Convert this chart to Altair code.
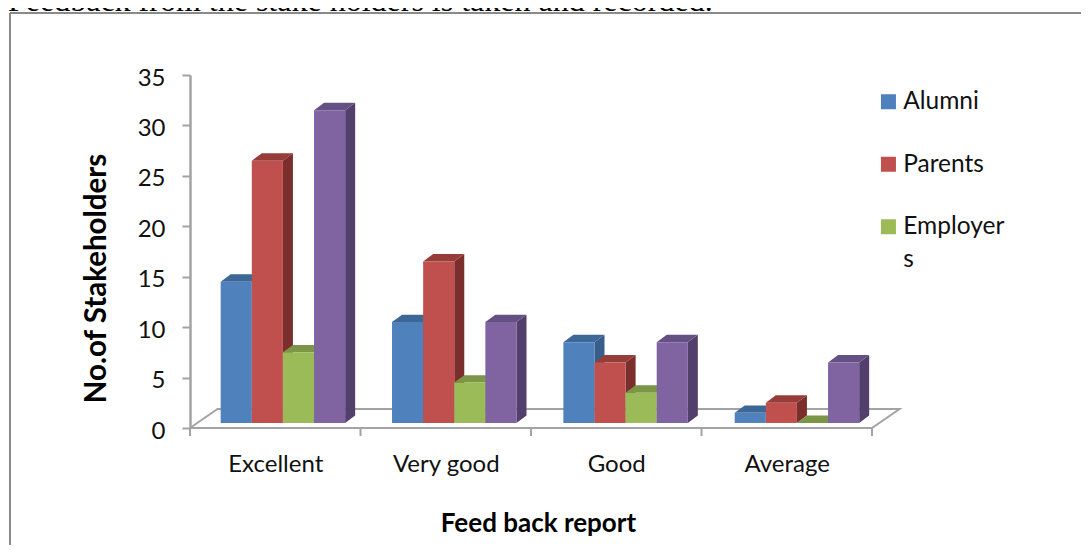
import altair as alt
import pandas as pd

CATEGORIES = ["Excellent", "Very good", "Good", "Average"]
SERIES = ["Alumni", "Parents", "Employers", "Students"]
ALUMNI = [14, 10, 8, 1]
PARENTS = [26, 16, 6, 2]
EMPLOYERS = [7, 4, 3, 0]
STUDENTS = [31, 10, 8, 6]
VALUES = [ALUMNI, PARENTS, EMPLOYERS, STUDENTS]

FRONT = ["#4f81bd", "#c0504d", "#9bbb59", "#8064a2"]
TOP = ["#3d6796", "#963d3a", "#7b9647", "#655083"]
SIDE = ["#385d8a", "#7a2f2d", "#6b8340", "#533f6c"]
AXIS_GREY = "#a3a3a3"
FONT = "Lato"

STEP = 1.0049
START = 0.18
BAR_W = 0.1825
DX = 0.0587
DY = 0.74
BASE = 0.5
FLOOR_DX = 0.1613
FLOOR_DY = 1.88

xs = alt.Scale(domain=[0, 4], nice=False, zero=False)
ys = alt.Scale(domain=[0, 35], nice=False, zero=False)

floor = pd.DataFrame({
    "x": [0, FLOOR_DX, 4 + FLOOR_DX, 4, 0],
    "y": [0, FLOOR_DY, FLOOR_DY, 0, 0],
    "o": [0, 1, 2, 3, 4],
})

label_expr = "[" + ",".join(repr(c) for c in CATEGORIES) + "][floor(datum.value)]"

XAX = alt.Axis(
    values=[0.5, 1.5, 2.5, 3.5], labelExpr=label_expr, domain=False, ticks=False, grid=False,
    labelFont=FONT, labelFontSize=24, labelColor="#111111", labelPadding=24,
    title="Feed back report", titleFont=FONT, titleFontSize=26, titleFontWeight="bold",
    titleColor="#000000", titleX=348, titleY=103, titleAlign="center", titleBaseline="alphabetic")
YAX = alt.Axis(
    values=list(range(0, 36, 5)), grid=False, domainColor=AXIS_GREY, domainWidth=2.5,
    tickColor=AXIS_GREY, tickWidth=2, tickSize=8, labelFont=FONT, labelFontSize=24,
    labelColor="#111111", labelPadding=17, labelOffset=3,
    title="No.of Stakeholders", titleFont=FONT, titleFontSize=29.5, titleFontWeight="bold",
    titleColor="#000000", titleX=-79, titleY=203, titleAlign="center", titleAngle=-90)

X = alt.X("x:Q", scale=xs, axis=XAX)
Y = alt.Y("y:Q", scale=ys, axis=YAX)

floor_layer = alt.Chart(floor).mark_line(color=AXIS_GREY, strokeWidth=2).encode(x=X, y=Y, order="o:Q")

ticks = pd.DataFrame({"x": [0, 1, 2, 3, 4], "y": [0] * 5, "y2": [-0.8] * 5})
tick_layer = alt.Chart(ticks).mark_rule(color=AXIS_GREY, strokeWidth=2).encode(x=X, y=Y, y2="y2:Q")

layers = [floor_layer, tick_layer]
for s, name in enumerate(SERIES):
    front, side, top = [], [], []
    for c, cat in enumerate(CATEGORIES):
        v = VALUES[s][c]
        l = START + c * STEP + s * BAR_W
        r = l + BAR_W
        b = BASE
        t = BASE + v
        front.append({"x": l, "x2": r, "y": b, "y2": t, "series": name})
        side.append({"id": c, "x": r, "y": b, "y2": t})
        side.append({"id": c, "x": r + DX, "y": b + DY, "y2": t + DY})
        top.append({"id": c, "y": t, "x": l, "x2": r})
        top.append({"id": c, "y": t + DY, "x": l + DX, "x2": r + DX})
    layers.append(alt.Chart(pd.DataFrame(side)).mark_area(color=SIDE[s]).encode(
        x=X, y=Y, y2="y2:Q", detail="id:N"))
    layers.append(alt.Chart(pd.DataFrame(top)).mark_area(color=TOP[s], orient="horizontal").encode(
        y=Y, x=X, x2="x2:Q", detail="id:N"))
    layers.append(alt.Chart(pd.DataFrame(front)).mark_rect().encode(
        x=X, x2="x2:Q", y=Y, y2="y2:Q",
        color=alt.Color("series:N", scale=alt.Scale(domain=SERIES, range=FRONT), legend=alt.Legend(
            values=SERIES[:3], title=None, orient="none", legendX=686.2, legendY=22,
            symbolType="M-1,-2H1V0H-1Z", symbolSize=225, symbolStrokeWidth=0, symbolOpacity=1,
            labelFont=FONT, labelFontSize=24.5, labelColor="#111111", labelOffset=2.5,
            labelExpr="datum.label == 'Employers' ? ['Employer', 's'] : datum.label",
            labelLimit=200, rowPadding=37.5, labelBaseline="alphabetic")),
    ))

frame_v = alt.Chart(pd.DataFrame({"a": [0]})).mark_rule(color="#8a8a8a", strokeWidth=2).encode(
    x=alt.value(-180), y=alt.value(-62), y2=alt.value(478))
frame_h = alt.Chart(pd.DataFrame({"a": [0]})).mark_rule(color="#8a8a8a", strokeWidth=2).encode(
    x=alt.value(-180), x2=alt.value(899), y=alt.value(-62))
caption = alt.Chart(pd.DataFrame({"t": ["Feedback from the stake holders is taken and recorded."]})).mark_text(
    font="Liberation Serif", fontSize=32, align="left", baseline="alphabetic", color="#000000").encode(
    x=alt.value(-182), y=alt.value(-64), text="t:N")

chart = alt.layer(frame_v, frame_h, caption, *layers).properties(
    width=682, height=353, autosize="none",
    padding={"left": 182, "top": 67, "right": 209, "bottom": 117},
    background="#ffffff",
).configure_view(stroke=None)
chart.config.style = {"guide-label": {"lineHeight": 33}}

chart.save("out.html", embed_options={"renderer": "svg", "actions": False})
